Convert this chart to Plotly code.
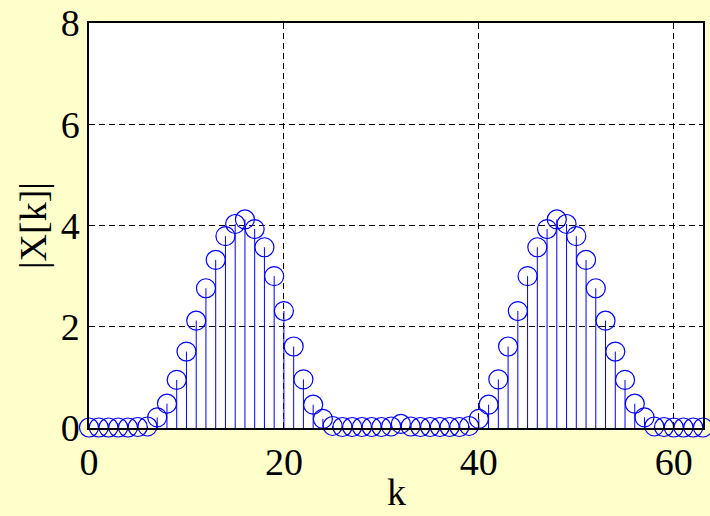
import plotly.graph_objects as go

# DFT magnitude |X[k]| for k = 0..63
k = list(range(64))
mag = [
    0.01, 0.01, 0.01, 0.01, 0.01, 0.02, 0.03, 0.21,
    0.48, 0.95, 1.51, 2.12, 2.76, 3.32, 3.79, 4.03,
    4.12, 3.93, 3.57, 3.00, 2.31, 1.61, 0.96, 0.46,
    0.18, 0.04, 0.02, 0.02, 0.02, 0.02, 0.02, 0.03,
    0.08, 0.03, 0.02, 0.02, 0.02, 0.02, 0.02, 0.04,
    0.18, 0.46, 0.96, 1.61, 2.31, 3.00, 3.57, 3.93,
    4.12, 4.03, 3.79, 3.32, 2.76, 2.12, 1.51, 0.95,
    0.48, 0.21, 0.03, 0.02, 0.01, 0.01, 0.01, 0.01,
]
x_ticks = [0, 20, 40, 60]
y_ticks = [0, 2, 4, 6, 8]
x_label = "k"
y_label = "|X[k]|"

BLUE = "#0000FF"
BG = "#FFFFCC"
FONT = "Liberation Serif, Times New Roman, serif"

# stems: vertical segments from 0 up to each value
stem_x, stem_y = [], []
for kk, v in zip(k, mag):
    stem_x += [kk, kk, None]
    stem_y += [0, v, None]

fig = go.Figure()
fig.add_trace(go.Scatter(
    x=stem_x, y=stem_y, mode="lines",
    line=dict(color=BLUE, width=1),
    hoverinfo="skip", showlegend=False,
))
fig.add_trace(go.Scatter(
    x=k, y=mag, mode="markers",
    marker=dict(symbol="circle-open", size=19, color=BLUE,
                line=dict(color=BLUE, width=1.2)),
    cliponaxis=False, showlegend=False,
))

axis_common = dict(
    showline=True, linecolor="black", linewidth=1.5, mirror=True,
    ticks="inside", ticklen=6, tickcolor="black",
    showgrid=True, gridcolor="black", gridwidth=1, griddash="6px,4px",
    zeroline=False, automargin=False,
    tickfont=dict(family=FONT, size=38, color="black"),
)

fig.update_xaxes(range=[0, 63], tickvals=x_ticks, ticklabelstandoff=0, **axis_common)
fig.update_yaxes(range=[0, 8], tickvals=y_ticks, ticklabelstandoff=0, **axis_common)

title_font = dict(family=FONT, size=38, color="black")
# x-axis title sits on the bottom edge of the figure
fig.add_annotation(
    text=x_label, xref="paper", yref="paper", x=0.5, y=-0.215,
    xanchor="center", yanchor="bottom", showarrow=False, font=title_font,
)
fig.add_annotation(
    text=y_label, xref="paper", yref="paper", x=-0.092, y=0.5,
    xanchor="center", yanchor="middle", textangle=-90, showarrow=False,
    font=title_font,
)

fig.update_layout(
    width=710, height=516,
    margin=dict(l=89, r=7, t=23, b=88),
    paper_bgcolor=BG, plot_bgcolor="white",
    font=dict(family=FONT, color="black"),
)

fig.write_html("out.html")
